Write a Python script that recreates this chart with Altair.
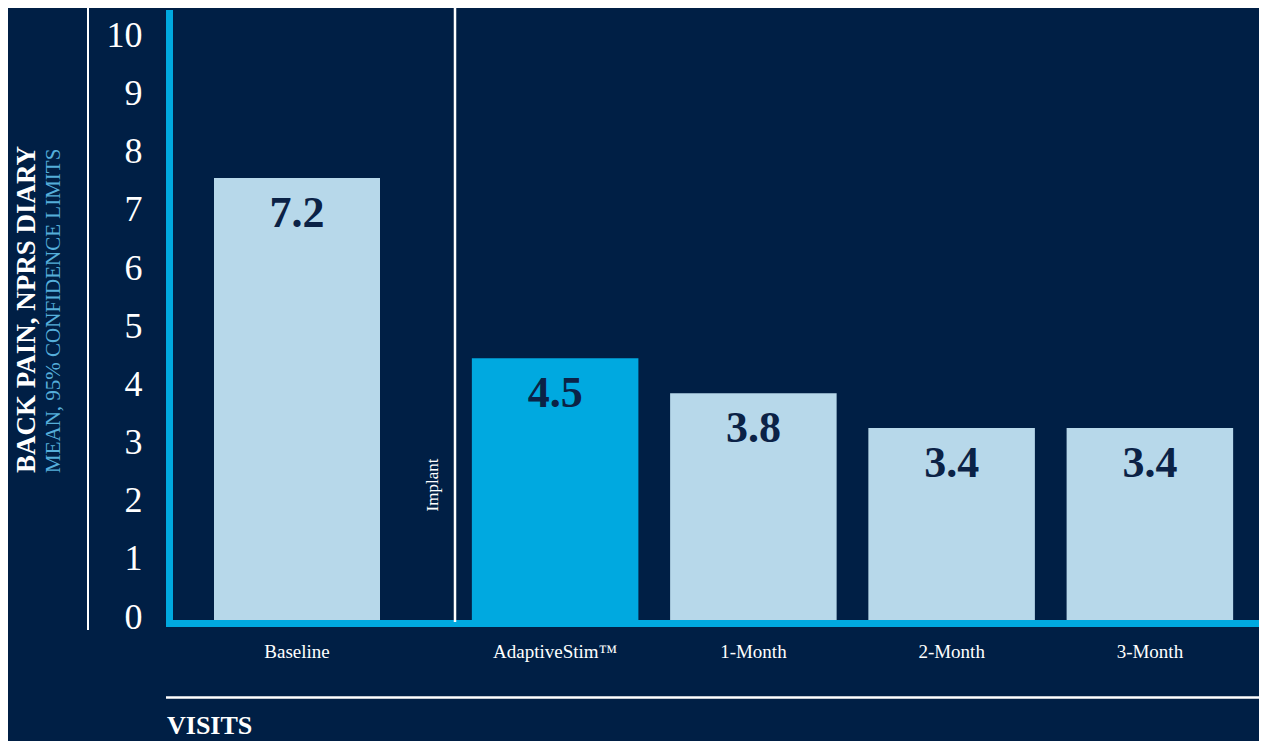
import altair as alt
import pandas as pd

# ---- data ----
visits = ["Baseline", "AdaptiveStim™", "1-Month", "2-Month", "3-Month"]
bar_heights = [7.6, 4.5, 3.9, 3.3, 3.3]          # bar tops as drawn
mean_labels = ["7.2", "4.5", "3.8", "3.4", "3.4"]  # printed means
y_ticks = [0, 1, 2, 3, 4, 5, 6, 7, 8, 9, 10]
y_title_main = "BACK PAIN, NPRS DIARY"
y_title_sub = "MEAN, 95% CONFIDENCE LIMITS"
x_title = "VISITS"
divider_label = "Implant"

BG = "#001F45"
LIGHT = "#B7D8EA"
BRIGHT = "#00A9E0"
SUBTITLE = "#55AEDA"
NUMBER = "#0B2246"
SERIF = "Liberation Serif"

W, H = 1080, 610

df = pd.DataFrame({"visit": visits, "height": bar_heights, "label": mean_labels})
pre_df = df[df["visit"] == visits[0]]
post_df = df[df["visit"] != visits[0]]

y_enc = alt.Y(
    "height:Q",
    scale=alt.Scale(domain=[0, 10.49], nice=False, zero=True),
    axis=alt.Axis(
        values=y_ticks, title=None, domain=False, ticks=False, tickSize=0, grid=False,
        labelFont=SERIF, labelFontSize=36, labelColor="white", labelPadding=31,
        labelOffset=-3, labelAlign="right", labelBaseline="middle", format="d",
    ),
)

x_axis = alt.Axis(
    orient="bottom", title=None, domain=False, ticks=False, tickSize=0, grid=False,
    labelFont=SERIF, labelFontSize=19, labelColor="white", labelPadding=22, labelAngle=0,
)

color_enc = alt.condition(
    alt.datum.visit == "AdaptiveStim™", alt.value(BRIGHT), alt.value(LIGHT)
)


def bar_group(data, domain, rng, p_in, p_out):
    x_enc = alt.X(
        "visit:N", sort=None,
        scale=alt.Scale(domain=domain, range=rng, paddingInner=p_in, paddingOuter=p_out),
        axis=x_axis,
    )
    base = alt.Chart(data)
    bars = base.mark_bar().encode(x=x_enc, y=y_enc, color=color_enc)
    nums = base.mark_text(
        dy=49, baseline="alphabetic", font=SERIF, fontWeight="bold", fontSize=44, color=NUMBER
    ).encode(x=x_enc, y=y_enc, text="label:N")
    return alt.layer(bars, nums)


pre = bar_group(pre_df, [visits[0]], [41, 207], 0, 0)
post = bar_group(post_df, visits[1:], [283, 1076], 0.16, 0.08)

one = pd.DataFrame({"k": [0]})

# decorative lines
left_white = alt.Chart(one).mark_rule(color="white", strokeWidth=2).encode(
    x=alt.value(-85), y=alt.value(-2), y2=alt.value(620))
blue_v = alt.Chart(one).mark_rule(color=BRIGHT, strokeWidth=7).encode(
    x=alt.value(-3.5), y=alt.value(0), y2=alt.value(617))
blue_h = alt.Chart(one).mark_rule(color=BRIGHT, strokeWidth=7).encode(
    x=alt.value(-7), x2=alt.value(1089), y=alt.value(613.5))
implant_line = alt.Chart(one).mark_rule(color="white", strokeWidth=2.5).encode(
    x=alt.value(282), y=alt.value(-2), y2=alt.value(612))
bottom_white = alt.Chart(one).mark_rule(color="white", strokeWidth=2.5).encode(
    x=alt.value(-7), x2=alt.value(1094), y=alt.value(687.5))

# texts
implant_txt = alt.Chart(pd.DataFrame({"t": [divider_label]})).mark_text(
    angle=270, align="center", baseline="alphabetic", font=SERIF, fontSize=17, color="white"
).encode(x=alt.value(265), y=alt.value(475), text="t:N")
title_main = alt.Chart(pd.DataFrame({"t": [y_title_main]})).mark_text(
    angle=270, align="left", baseline="alphabetic", font=SERIF, fontWeight="bold",
    fontSize=27, color="white"
).encode(x=alt.value(-138), y=alt.value(463), text="t:N")
title_sub = alt.Chart(pd.DataFrame({"t": [y_title_sub]})).mark_text(
    angle=270, align="left", baseline="alphabetic", font=SERIF, fontSize=21, color=SUBTITLE
).encode(x=alt.value(-113), y=alt.value(463), text="t:N")
visits_txt = alt.Chart(pd.DataFrame({"t": [x_title]})).mark_text(
    align="left", baseline="alphabetic", font=SERIF, fontWeight="bold", fontSize=26, color="white"
).encode(x=alt.value(-6), y=alt.value(724), text="t:N")

chart = (
    alt.layer(
        pre, post, left_white, blue_v, blue_h, implant_line, bottom_white,
        implant_txt, title_main, title_sub, visits_txt,
    )
    .resolve_scale(x="independent")
    .properties(
        width=W, height=H, background=BG,
        autosize=alt.AutoSizeParams(type="none"),
        padding={"left": 165, "top": 2, "right": 6, "bottom": 121},
    )
    .configure_view(stroke=None)
)

chart.save("out.html", embed_options={"renderer": "svg", "actions": False})
